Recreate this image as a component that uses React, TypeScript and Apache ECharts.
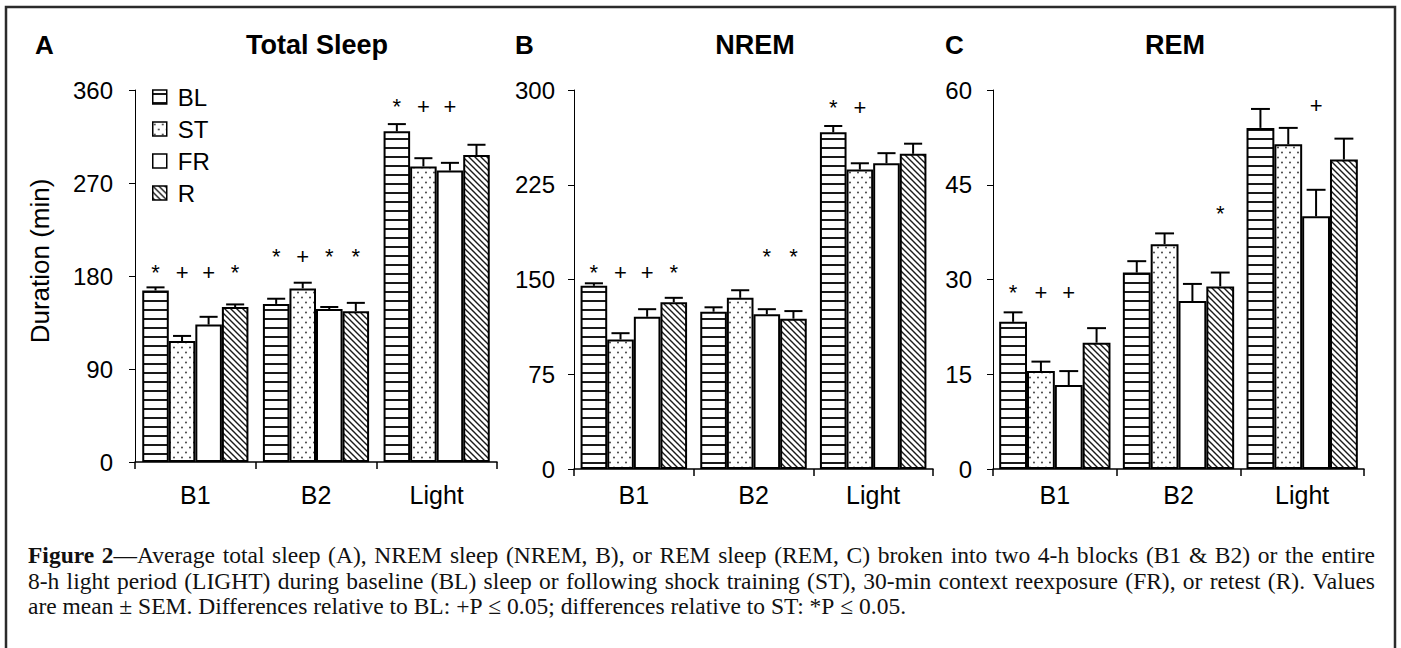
import React, { useEffect, useRef } from 'react';
import * as echarts from 'echarts';

const categories = ['B1', 'B2', 'Light'];
const conditions = ['BL', 'ST', 'FR', 'R'];

// Panel A – Total Sleep (min); rows follow `conditions`, columns follow `categories`
const totalMeans = [
  [166, 153, 320],
  [117, 168, 286],
  [133, 148, 282],
  [150, 146, 297],
];
const totalSem = [
  [3, 5, 7],
  [5, 5.5, 8],
  [7.5, 2, 7.5],
  [2.5, 8, 10],
];
const totalMarks = [
  ['*', '+', '+', '*'],
  ['*', '+', '*', '*'],
  ['*', '+', '+', ''],
];
const totalMarkLevel = [183, 199, 344];
const totalTicks = [0, 90, 180, 270, 360];

// Panel B – NREM (min)
const nremMeans = [
  [145, 124.5, 266.5],
  [102.5, 135.5, 237],
  [120.5, 122.5, 242],
  [132, 119, 249.5],
];
const nremSem = [
  [2, 3.5, 5],
  [5, 6, 5],
  [6, 4, 8],
  [3.5, 6, 8],
];
const nremMarks = [
  ['*', '+', '+', '*'],
  ['', '', '*', '*'],
  ['*', '+', '', ''],
];
const nremMarkLevel = [155.5, 168, 286.5];
const nremTicks = [0, 75, 150, 225, 300];

// Panel C – REM (min)
const remMeans = [
  [23.3, 31.1, 54],
  [15.5, 35.6, 51.4],
  [13.3, 26.6, 40],
  [20, 28.9, 49],
];
const remSem = [
  [1.5, 1.8, 3],
  [1.5, 1.7, 2.6],
  [2.2, 2.7, 4.2],
  [2.3, 2.2, 3.3],
];
const remMarks = [
  ['*', '+', '+', ''],
  ['', '', '', '*'],
  ['', '', '+', ''],
];
const remMarkLevel = [27.9, 40.4, 57.5];
const remTicks = [0, 15, 30, 45, 60];

const yAxisName = 'Duration (min)';

const captionLines = [
  'Figure 2—Average total sleep (A), NREM sleep (NREM, B), or REM sleep (REM, C) broken into two 4-h blocks (B1 & B2) or the entire',
  '8-h light period (LIGHT) during baseline (BL) sleep or following shock training (ST), 30-min context reexposure (FR), or retest (R). Values',
  'are mean ± SEM. Differences relative to BL: +P ≤ 0.05; differences relative to ST: *P ≤ 0.05.',
];
const captionBoldPrefix = 'Figure 2';

const SANS = '"Liberation Sans", Arial, sans-serif';
const SERIF = '"Liberation Serif", "Times New Roman", serif';
const CAP_SIZE = 23.5;
const CAP_LEFT = 28;
const CAP_RIGHT = 1375;
const CAP_Y = [555, 581, 606];

function makePattern(kind: string): any {
  const c = document.createElement('canvas');
  let w = 8;
  let h = 8;
  if (kind === 'h') {
    w = 9; h = 9;
  } else if (kind === 'dot') {
    w = 8; h = 10;
  } else if (kind === 'diag') {
    w = 6; h = 6;
  }
  c.width = w;
  c.height = h;
  const ctx = c.getContext('2d')!;
  ctx.fillStyle = '#fff';
  ctx.fillRect(0, 0, w, h);
  if (kind === 'h') {
    ctx.fillStyle = '#1a1a1a';
    ctx.fillRect(0, 3, w, 2);
  } else if (kind === 'dot') {
    ctx.fillStyle = '#3a3a3a';
    ctx.beginPath();
    ctx.arc(2, 2.5, 0.95, 0, Math.PI * 2);
    ctx.arc(6, 7.5, 0.95, 0, Math.PI * 2);
    ctx.fill();
  } else if (kind === 'diag') {
    ctx.strokeStyle = '#1a1a1a';
    ctx.lineWidth = 1.4;
    ctx.beginPath();
    ctx.moveTo(-1, -1); ctx.lineTo(w + 1, h + 1);
    ctx.moveTo(-1, h - 1); ctx.lineTo(1, h + 1);
    ctx.moveTo(w - 1, -1); ctx.lineTo(w + 1, 1);
    ctx.stroke();
  }
  return { image: c, repeat: 'repeat', imageWidth: w, imageHeight: h };
}

export default function App() {
  const ref = useRef<HTMLDivElement>(null);

  useEffect(() => {
    if (!ref.current) return;
    const chart = echarts.init(ref.current, undefined, { renderer: 'svg' });

    const fills: any[] = [makePattern('h'), makePattern('dot'), '#ffffff', makePattern('diag')];

    const panels = [
      {
        letter: 'A', title: 'Total Sleep', means: totalMeans, sem: totalSem, marks: totalMarks,
        levels: totalMarkLevel, ticks: totalTicks,
        grid: { left: 135, top: 90, width: 362, height: 372 }, gap: 0.12, yMargin: 22, xMargin: 20,
        letterX: 35, titleX: 317,
      },
      {
        letter: 'B', title: 'NREM', means: nremMeans, sem: nremSem, marks: nremMarks,
        levels: nremMarkLevel, ticks: nremTicks,
        grid: { left: 574, top: 90, width: 359, height: 379 }, gap: 0.11, yMargin: 19, xMargin: 13,
        letterX: 515, titleX: 755,
      },
      {
        letter: 'C', title: 'REM', means: remMeans, sem: remSem, marks: remMarks,
        levels: remMarkLevel, ticks: remTicks,
        grid: { left: 993, top: 90, width: 371, height: 379 }, gap: 0.1, yMargin: 21, xMargin: 13,
        letterX: 945, titleX: 1175,
      },
    ];

    const grids: any[] = [];
    const xAxes: any[] = [];
    const yAxes: any[] = [];
    const series: any[] = [];
    const graphics: any[] = [];

    panels.forEach((p, pi) => {
      grids.push({ ...p.grid, containLabel: false });
      xAxes.push({
        type: 'category', gridIndex: pi, data: categories,
        axisLine: { show: true, lineStyle: { color: '#000', width: 1.5 } },
        axisTick: { show: true, length: 7, lineStyle: { color: '#000', width: 1.5 } },
        axisLabel: { fontSize: 25, color: '#000', margin: p.xMargin, fontFamily: SANS },
        splitLine: { show: false },
      });
      const t = p.ticks;
      yAxes.push({
        type: 'value', gridIndex: pi, min: t[0], max: t[t.length - 1], interval: t[1] - t[0],
        axisLine: { show: true, lineStyle: { color: '#000', width: 1 } },
        axisTick: { show: true, length: 6, lineStyle: { color: '#000', width: 1 } },
        axisLabel: { fontSize: 24, color: '#000', margin: p.yMargin, fontFamily: SANS },
        splitLine: { show: false },
      });

      conditions.forEach((name, k) => {
        series.push({
          type: 'bar', name, xAxisIndex: pi, yAxisIndex: pi, data: p.means[k],
          barGap: '0%', barCategoryGap: `${p.gap * 100}%`,
          itemStyle: { color: fills[k], borderColor: '#000', borderWidth: 2 },
          silent: true, z: 2,
        });
      });

      const errData: number[][] = [];
      conditions.forEach((_, k) => {
        categories.forEach((__, c) => errData.push([c, k, p.means[k][c], p.sem[k][c]]));
      });
      const gap = p.gap;
      series.push({
        type: 'custom', xAxisIndex: pi, yAxisIndex: pi, silent: true, z: 3,
        encode: { x: 0, y: 2 },
        data: errData,
        renderItem: (params: any, api: any) => {
          const c = api.value(0);
          const k = api.value(1);
          const v = api.value(2);
          const e = api.value(3);
          const base = api.coord([c, v]);
          const top = api.coord([c, v + e]);
          const band = api.size([1, 0])[0];
          const total = band * (1 - gap);
          const bw = total / 4;
          const cx = base[0] - total / 2 + bw * (k + 0.5);
          const half = bw * 0.34;
          return {
            type: 'group',
            children: [
              { type: 'line', shape: { x1: cx, y1: base[1], x2: cx, y2: top[1] }, style: { stroke: '#000', lineWidth: 2 } },
              { type: 'line', shape: { x1: cx - half, y1: top[1], x2: cx + half, y2: top[1] }, style: { stroke: '#000', lineWidth: 2 } },
            ],
          };
        },
      });

      const markData: number[][] = [];
      const markText: string[] = [];
      p.marks.forEach((row, c) => {
        row.forEach((m, k) => {
          if (m) {
            markData.push([c, k, p.levels[c]]);
            markText.push(m);
          }
        });
      });
      series.push({
        type: 'custom', xAxisIndex: pi, yAxisIndex: pi, silent: true, z: 4,
        encode: { x: 0, y: 2 },
        data: markData,
        renderItem: (params: any, api: any) => {
          const c = api.value(0);
          const k = api.value(1);
          const lv = api.value(2);
          const pt = api.coord([c, lv]);
          const band = api.size([1, 0])[0];
          const total = band * (1 - gap);
          const bw = total / 4;
          const cx = pt[0] - total / 2 + bw * (k + 0.5);
          return {
            type: 'text', x: cx, y: pt[1],
            style: {
              text: markText[params.dataIndex], fontSize: 22, fontFamily: SANS, fill: '#000',
              align: 'center', verticalAlign: 'middle',
            },
          };
        },
      });

      graphics.push({
        type: 'text', x: p.letterX, y: 45,
        style: { text: p.letter, fontSize: 26, fontWeight: 'bold', fontFamily: SANS, fill: '#000', align: 'left', verticalAlign: 'middle' },
      });
      graphics.push({
        type: 'text', x: p.titleX, y: 45,
        style: { text: p.title, fontSize: 27, fontWeight: 'bold', fontFamily: SANS, fill: '#000', align: 'center', verticalAlign: 'middle' },
      });
    });

    graphics.push({
      type: 'text', x: 40, y: 261, rotation: Math.PI / 2,
      style: { text: yAxisName, fontSize: 26, fontFamily: SANS, fill: '#000', align: 'center', verticalAlign: 'middle' },
    });

    graphics.push({
      type: 'rect', shape: { x: 6, y: 7, width: 1389, height: 700 },
      style: { fill: 'none', stroke: '#2b2b2b', lineWidth: 2.5 }, silent: true,
    });

    // Caption (justified lines)
    const mctx = document.createElement('canvas').getContext('2d')!;
    const tw = (s: string, b: boolean) => {
      mctx.font = `${b ? 'bold ' : ''}${CAP_SIZE}px "Liberation Serif", "Times New Roman", serif`;
      return mctx.measureText(s).width;
    };
    const boldLen = captionBoldPrefix.length;
    captionLines.forEach((line, li) => {
      const words = line.split(' ');
      let offset = 0;
      const wordSegs = words.map((w) => {
        const segs: { t: string; b: boolean }[] = [];
        const start = offset;
        const end = offset + w.length;
        if (li === 0 && start < boldLen) {
          const cut = Math.min(end, boldLen) - start;
          segs.push({ t: w.slice(0, cut), b: true });
          if (cut < w.length) segs.push({ t: w.slice(cut), b: false });
        } else {
          segs.push({ t: w, b: false });
        }
        offset = end + 1;
        return segs;
      });
      const widths = wordSegs.map((segs) => segs.reduce((a, s) => a + tw(s.t, s.b), 0));
      const total = widths.reduce((a, b) => a + b, 0);
      const justify = li < captionLines.length - 1;
      const space = justify ? (CAP_RIGHT - CAP_LEFT - total) / (words.length - 1) : tw(' ', false);
      let x = CAP_LEFT;
      wordSegs.forEach((segs) => {
        segs.forEach((s) => {
          graphics.push({
            type: 'text', x, y: CAP_Y[li], silent: true,
            style: {
              text: s.t, fontSize: CAP_SIZE, fontFamily: SERIF, fontWeight: s.b ? 'bold' : 'normal',
              fill: '#111', align: 'left', verticalAlign: 'middle',
            },
          });
          x += tw(s.t, s.b);
        });
        x += space;
      });
    });

    chart.setOption({
      animation: false,
      backgroundColor: '#fff',
      textStyle: { fontFamily: SANS },
      grid: grids,
      xAxis: xAxes,
      yAxis: yAxes,
      legend: {
        data: conditions, orient: 'vertical', left: 147, top: 80, itemWidth: 14, itemHeight: 14, itemGap: 8,
        icon: 'rect', selectedMode: false,
        itemStyle: { borderColor: '#000', borderWidth: 1.5 },
        textStyle: { fontSize: 24, color: '#000', lineHeight: 24, fontFamily: SANS, padding: [0, 0, 0, 6] },
      },
      series,
      graphic: { elements: graphics },
    });

    return () => chart.dispose();
  }, []);

  return <div ref={ref} style={{ position: 'absolute', left: 0, top: 0, width: 1401, height: 648 }} />;
}
